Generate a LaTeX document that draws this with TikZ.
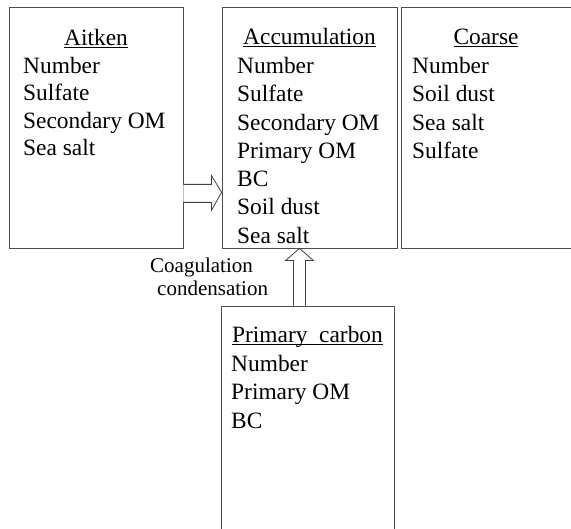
\documentclass[tikz,border=0pt]{standalone}
\usepackage{fontspec}
\setmainfont{Liberation Serif}
\usetikzlibrary{calc}
\newcommand{\modehead}[1]{\underline{\smash{#1}}}
\tikzset{
  modebox/.style={draw=black!70, line width=0.8pt, minimum height=241pt, inner sep=0pt},
  modehead/.style={anchor=base, inner sep=0pt, font=\fontsize{23.4}{28}\selectfont},
  modelist/.style={anchor=north west, inner sep=0pt, align=left},
  fatarrow/.style={draw=black!75, line width=0.8pt, fill=white, line join=miter}
}
\begin{document}
\begin{tikzpicture}[x=1pt, y=1pt]
\useasboundingbox (0,0) rectangle (571,529);
\clip (0,0) rectangle (571,529);
% boxes
\node[modebox, minimum width=174pt] (aitken) at (96,401.5) {};
\node[modebox, minimum width=175pt] (accum) at (309.5,401.5) {};
\node[modebox, minimum width=170pt] (coarse) at (486.5,401.5) {};
\node[modebox, minimum width=173pt, minimum height=250pt] (primc) at (307.5,98) {};
% headings
\node[modehead] (aitkenhead) at (96,483) {\modehead{Aitken}};
\node[modehead] (accumhead) at (309.5,484) {\modehead{Accumulation}};
\node[modehead] (coarsehead) at (486,484) {\modehead{Coarse}};
\node[modehead] (primchead) at (307.5,186) {\modehead{Primary\ \ carbon}};
% species
\node[modelist, font=\fontsize{23.4}{27.3}\selectfont] (aitkenlist) at (23,472)
  {Number\\Sulfate\\Secondary OM\\Sea salt};
\node[modelist, font=\fontsize{23.4}{28.3}\selectfont] (accumlist) at (237,472)
  {Number\\Sulfate\\Secondary OM\\Primary OM\\BC\\Soil dust\\Sea salt};
\node[modelist, font=\fontsize{23.4}{28.3}\selectfont] (coarselist) at (412,472)
  {Number\\Soil dust\\Sea salt\\Sulfate};
\node[modelist, font=\fontsize{23.4}{28.5}\selectfont] (primclist) at (231,174)
  {Number\\Primary OM\\BC};
% transfer arrows
\draw[fatarrow] ($(aitken.south east)+(0,64)$) -- ++(28,0) -- ++(0,9)
  -- ($(accum.west |- aitken.south east)+(0,56)$)
  -- ($(aitken.south east)+(28,38)$) -- ++(0,8) -- ($(aitken.south east)+(0,46)$);
\draw[fatarrow] ($(primc.north)+(-14,0)$) -- ++(0,45) -- ++(-8,0)
  -- ($(accum.south -| primc.north)+(-8,0)$)
  -- ($(primc.north)+(6,45)$) -- ++(-8,0) -- ($(primc.north)+(-2,0)$);
\node[align=left, anchor=west, inner sep=0pt, font=\fontsize{21}{23}\selectfont] (coaglabel) at (150,252.5)
  {Coagulation\\\hspace*{7pt}condensation};
\end{tikzpicture}
\end{document}
